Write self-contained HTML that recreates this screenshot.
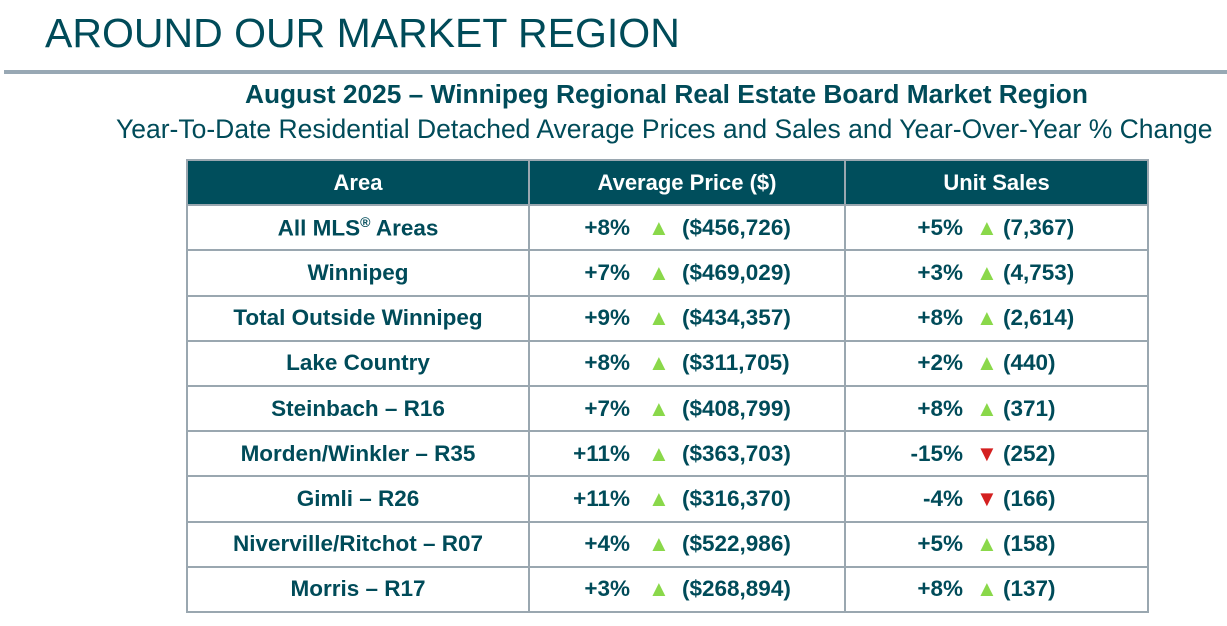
<!DOCTYPE html>
<html><head><meta charset="utf-8"><style>
body{margin:0;width:1227px;height:626px;background:#fff;font-family:"Liberation Sans",Arial,sans-serif;color:#004b59;position:relative;overflow:hidden}
.a{position:absolute;white-space:nowrap}
table{position:absolute;left:186px;top:159px;width:963px;border-collapse:collapse}
td,th{border:2px solid #9aa7b0;height:43.2px;padding:0;font-size:22.5px;font-weight:bold;position:relative}
th{background:#004e5c;color:#fff;font-size:22px}
td{text-align:center}
.up{color:#8ad84a;font-size:22px}
.dn{color:#d42020;font-size:22px}
.c{position:relative;height:100%}
.c span{position:absolute;top:50%;transform:translateY(-50%)}
</style></head><body>
<div class="a" style="left:45px;top:10px;font-size:41px;">AROUND OUR MARKET REGION</div>
<div class="a" style="left:4px;top:70px;width:1223px;height:4px;background:#98a8b4"></div>
<div class="a" style="left:245px;top:79px;font-size:26.3px;font-weight:bold">August 2025 – Winnipeg Regional Real Estate Board Market Region</div>
<div class="a" style="left:116px;top:114px;font-size:26.5px">Year-To-Date Residential Detached Average Prices and Sales and Year-Over-Year % Change</div>
<table>
<tr><th style="width:340px">Area</th><th style="width:314px">Average Price ($)</th><th>Unit Sales</th></tr>
<tbody id="b"></tbody>
</table>
<script>
var d=[["All MLS<sup style='font-size:14px'>®</sup> Areas","+8%","$456,726","+5%","7,367",1],
["Winnipeg","+7%","$469,029","+3%","4,753",1],
["Total Outside Winnipeg","+9%","$434,357","+8%","2,614",1],
["Lake Country","+8%","$311,705","+2%","440",1],
["Steinbach – R16","+7%","$408,799","+8%","371",1],
["Morden/Winkler – R35","+11%","$363,703","-15%","252",0],
["Gimli – R26","+11%","$316,370","-4%","166",0],
["Niverville/Ritchot – R07","+4%","$522,986","+5%","158",1],
["Morris – R17","+3%","$268,894","+8%","137",1]];
var h="";
d.forEach(function(r){
h+="<tr><td>"+r[0]+"</td><td><div class='c'><span style='right:214px'>"+r[1]+"</span><span class='up' style='left:118px'>▲</span><span style='left:152px'>("+r[2]+")</span></div></td>"+
"<td><div class='c'><span style='right:184px'>"+r[3]+"</span><span class='"+(r[5]?"up":"dn")+"' style='left:130px'>"+(r[5]?"▲":"▼")+"</span><span style='left:157px'>("+r[4]+")</span></div></td></tr>";
});
document.getElementById("b").innerHTML=h;
</script>
</body></html>
